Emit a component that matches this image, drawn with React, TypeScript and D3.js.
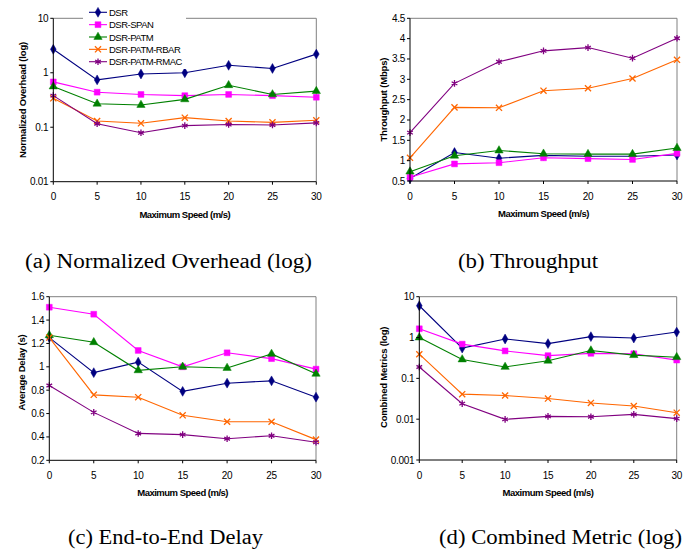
import React from 'react';
import * as d3 from 'd3';

const speeds = [0, 5, 10, 15, 20, 25, 30];
const seriesNames = ['DSR', 'DSR-SPAN', 'DSR-PATM', 'DSR-PATM-RBAR', 'DSR-PATM-RMAC'];
const seriesColors = ['#000080', '#ff00ff', '#008000', '#ff6600', '#800080'];

// rows follow seriesNames
const overheadData = [
  [2.7, 0.74, 0.95, 1.0, 1.37, 1.2, 2.2],
  [0.68, 0.44, 0.4, 0.38, 0.4, 0.38, 0.355],
  [0.56, 0.27, 0.256, 0.325, 0.59, 0.4, 0.46],
  [0.34, 0.13, 0.118, 0.15, 0.13, 0.123, 0.134],
  [0.38, 0.116, 0.079, 0.107, 0.112, 0.11, 0.12],
];
const throughputData = [
  [0.56, 1.2, 1.06, 1.13, 1.11, 1.11, 1.14],
  [0.59, 0.92, 0.95, 1.07, 1.05, 1.03, 1.18],
  [0.73, 1.12, 1.25, 1.17, 1.16, 1.16, 1.31],
  [1.07, 2.31, 2.3, 2.72, 2.78, 3.02, 3.48],
  [1.69, 2.9, 3.43, 3.7, 3.78, 3.52, 4.01],
];
const delayData = [
  [1.25, 0.95, 1.04, 0.79, 0.86, 0.88, 0.74],
  [1.51, 1.45, 1.14, 1.0, 1.12, 1.07, 0.98],
  [1.27, 1.21, 0.97, 1.0, 0.99, 1.11, 0.94],
  [1.25, 0.76, 0.74, 0.585, 0.53, 0.53, 0.377],
  [0.84, 0.61, 0.43, 0.42, 0.385, 0.41, 0.354],
];
const combinedData = [
  [6.0, 0.55, 0.92, 0.71, 1.05, 0.97, 1.36],
  [1.64, 0.69, 0.47, 0.36, 0.41, 0.4, 0.28],
  [1.0, 0.29, 0.19, 0.27, 0.48, 0.37, 0.33],
  [0.39, 0.041, 0.038, 0.032, 0.025, 0.021, 0.0144],
  [0.19, 0.024, 0.0099, 0.0117, 0.0115, 0.0131, 0.0103],
];

const overheadTicks = [0.01, 0.1, 1, 10];
const throughputTicks = [0.5, 1, 1.5, 2, 2.5, 3, 3.5, 4, 4.5];
const delayTicks = [0.2, 0.4, 0.6, 0.8, 1, 1.2, 1.4, 1.6];
const combinedTicks = [0.001, 0.01, 0.1, 1, 10];

const symbols = [d3.symbolDiamond, d3.symbolSquare, d3.symbolTriangle, d3.symbolX, d3.symbolAsterisk];
const symbolSizes = [28, 34, 30, 26, 30];
const stroked = [false, false, false, true, true];

const sans = '"Liberation Sans", Arial, sans-serif';
const serif = '"Liberation Serif", "Times New Roman", serif';

const Marker = ({ i, x, y }) => (
  <path
    d={d3.symbol().type(symbols[i]).size(symbolSizes[i])()}
    transform={`translate(${x},${y})`}
    fill={stroked[i] ? 'none' : seriesColors[i]}
    stroke={seriesColors[i]}
    strokeWidth={stroked[i] ? 1.3 : 0.5}
  />
);

const Panel = ({ box, data, log, ticks, domain, yTitle, titleOffset, titleShift }) => {
  const { x0, x1, y0, y1 } = box;
  const x = d3.scaleLinear().domain([0, 30]).range([x0, x1]);
  const y = (log ? d3.scaleLog() : d3.scaleLinear()).domain(domain).range([y1, y0]);
  const line = d3.line().x((d, i) => x(speeds[i])).y(d => y(d));
  const midY = (y0 + y1) / 2 + (titleShift || 0);
  return (
    <g>
      <line x1={x0} x2={x1} y1={y0} y2={y0} stroke="#808080" />
      <line x1={x1} x2={x1} y1={y0} y2={y1} stroke="#808080" />
      {data.map((row, i) => (
        <g key={i}>
          <path d={line(row)} fill="none" stroke={seriesColors[i]} strokeWidth={1.1} />
          {row.map((v, j) => <Marker key={j} i={i} x={x(speeds[j])} y={y(v)} />)}
        </g>
      ))}
      <line x1={x0} x2={x0} y1={y0} y2={y1} stroke="#000" />
      <line x1={x0} x2={x1} y1={y1} y2={y1} stroke="#000" />
      {ticks.map(t => (
        <g key={t}>
          <line x1={x0 - 3} x2={x0} y1={y(t)} y2={y(t)} stroke="#000" />
          <text x={x0 - 5} y={y(t) + 3.5} textAnchor="end" fontSize={10} fontFamily={sans} letterSpacing={-0.3}>
            {String(t)}
          </text>
        </g>
      ))}
      {speeds.map(s => (
        <g key={s}>
          <line x1={x(s)} x2={x(s)} y1={y1} y2={y1 + 3} stroke="#000" />
          <text x={x(s)} y={y1 + 18.5} textAnchor="middle" fontSize={10} fontFamily={sans} letterSpacing={-0.3}>
            {s}
          </text>
        </g>
      ))}
      <text x={(x0 + x1) / 2} y={y1 + 36} textAnchor="middle" fontSize={9.5} fontWeight="bold" fontFamily={sans} letterSpacing={-0.5}>
        Maximum Speed (m/s)
      </text>
      <text
        transform={`translate(${x0 - titleOffset},${midY}) rotate(-90)`}
        textAnchor="middle"
        fontSize={9.5}
        fontWeight="bold"
        fontFamily={sans}
        letterSpacing={-0.2}
      >
        {yTitle}
      </text>
    </g>
  );
};

const Legend = () => {
  const top = 12.3;
  const step = 12.35;
  return (
    <g>
      <rect x={83} y={3} width={103} height={66} fill="#fff" />
      {seriesNames.map((name, i) => {
        const yy = top + i * step;
        return (
          <g key={name}>
            <line x1={89} x2={107} y1={yy} y2={yy} stroke={seriesColors[i]} strokeWidth={1.1} />
            <Marker i={i} x={98} y={yy} />
            <text x={109} y={yy + 3.5} fontSize={9.5} fontFamily={sans} letterSpacing={-0.5}>
              {name}
            </text>
          </g>
        );
      })}
    </g>
  );
};

const captions = [
  { text: '(a) Normalized Overhead (log)', x: 25, y: 268, w: 287 },
  { text: '(b) Throughput', x: 458, y: 268, w: 140 },
  { text: '(c) End-to-End Delay', x: 68, y: 544, w: 195 },
  { text: '(d) Combined Metric (log)', x: 439, y: 544, w: 243 },
];

export default function App() {
  return (
    <svg width={683} height={549} style={{ position: 'absolute', left: 0, top: 0 }}>
      <rect width={683} height={549} fill="#fff" />
      <Panel
        box={{ x0: 53.3, x1: 316.3, y0: 18.3, y1: 181.7 }}
        data={overheadData}
        log
        ticks={overheadTicks}
        domain={[0.01, 10]}
        yTitle="Normalized Overhead (log)"
        titleOffset={27}
      />
      <Legend />
      <Panel
        box={{ x0: 410, x1: 677, y0: 18.3, y1: 181 }}
        data={throughputData}
        ticks={throughputTicks}
        domain={[0.5, 4.5]}
        yTitle="Throughput (Mbps)"
        titleOffset={23.5}
      />
      <Panel
        box={{ x0: 49.3, x1: 316, y0: 296.7, y1: 460.3 }}
        data={delayData}
        ticks={delayTicks}
        domain={[0.2, 1.6]}
        yTitle="Average Delay (s)"
        titleOffset={24}
        titleShift={-6}
      />
      <Panel
        box={{ x0: 419.3, x1: 676.7, y0: 296.7, y1: 460 }}
        data={combinedData}
        log
        ticks={combinedTicks}
        domain={[0.001, 10]}
        yTitle="Combined Metrics (log)"
        titleOffset={32.5}
        titleShift={-1}
      />
      {captions.map(c => (
        <text key={c.text} x={c.x} y={c.y} fontSize={20} fontFamily={serif} textLength={c.w} lengthAdjust="spacingAndGlyphs">
          {c.text}
        </text>
      ))}
    </svg>
  );
}
